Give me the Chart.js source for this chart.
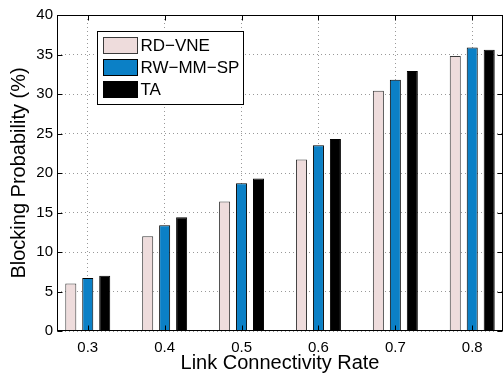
<!DOCTYPE html>
<html>
<head>
<meta charset="utf-8">
<script src="https://cdn.jsdelivr.net/npm/chart.js@4"></script>
<style>
  html, body { margin: 0; padding: 0; background: #fff; }
  #wrap { width: 504px; height: 373px; }
</style>
</head>
<body>
<div id="wrap"><canvas id="c" width="504" height="373"></canvas></div>
<script>
// ---- data ----
const xCategories = [0.3, 0.4, 0.5, 0.6, 0.7, 0.8];
const seriesNames = ['RD\u2212VNE', 'RW\u2212MM\u2212SP', 'TA'];
const rdVne  = [6.0, 12.0, 16.4, 21.7, 30.4, 34.8];
const rwMmSp = [6.7, 13.4, 18.7, 23.5, 31.8, 35.9];
const ta     = [7.0, 14.4, 19.3, 24.3, 32.9, 35.6];
const yTickValues = [0, 5, 10, 15, 20, 25, 30, 35, 40];
const xAxisTitle = 'Link Connectivity Rate';
const yAxisTitle = 'Blocking Probability (%)';

// ---- styles ----
const FONT = '"Liberation Sans", Arial, Helvetica, sans-serif';
const fills = ['#eedcdc', '#0b80c6', '#000000'];
const edges = ['#3a3a3a', '#000000', '#000000'];
const seriesValues = [rdVne, rwMmSp, ta];

const datasets = seriesNames.map((name, s) => ({
  label: name,
  data: xCategories.map((x, i) => ({ x: x, y: seriesValues[s][i] })),
  backgroundColor: fills[s],
  borderColor: edges[s],
  borderWidth: 1,
  borderSkipped: 'bottom',
  categoryPercentage: 0.662,
  barPercentage: 0.65
}));

const framePlugin = {
  id: 'frame',
  afterDatasetsDraw(chart) {
    const { ctx, chartArea: a, scales } = chart;
    const x = scales.x, y = scales.y;
    ctx.save();
    ctx.strokeStyle = '#000';
    ctx.lineWidth = 1;
    const L = Math.round(a.left) + 0.5, R = Math.round(a.right) - 0.5;
    const T = Math.round(a.top) + 0.5, B = Math.round(a.bottom) - 0.5;
    ctx.strokeRect(L, T, R - L, B - T);
    const tl = 5;
    ctx.beginPath();
    x.ticks.forEach(t => {
      const px = Math.round(x.getPixelForValue(t.value)) + 0.5;
      ctx.moveTo(px, B); ctx.lineTo(px, B - tl);
      ctx.moveTo(px, T); ctx.lineTo(px, T + tl);
    });
    y.ticks.forEach(t => {
      const py = Math.round(y.getPixelForValue(t.value)) + 0.5;
      ctx.moveTo(L, py); ctx.lineTo(L + tl, py);
      ctx.moveTo(R, py); ctx.lineTo(R - tl, py);
    });
    ctx.stroke();

    // legend box inside the axes
    const bx = Math.round(a.left + 40) + 0.5, by = Math.round(a.top + 16) + 0.5;
    const bw = 146, bh = 73;
    ctx.fillStyle = '#fff';
    ctx.fillRect(bx, by, bw, bh);
    ctx.strokeRect(bx, by, bw, bh);
    ctx.font = '17px ' + FONT;
    ctx.textBaseline = 'middle';
    ctx.textAlign = 'left';
    chart.data.datasets.forEach((ds, i) => {
      const sx = bx + 6, sy = by + 6 + i * 22;
      ctx.fillStyle = ds.backgroundColor;
      ctx.fillRect(sx, sy, 34, 16);
      ctx.strokeStyle = ds.borderColor;
      ctx.strokeRect(sx, sy, 34, 16);
      ctx.fillStyle = '#000';
      ctx.fillText(ds.label, sx + 37, sy + 9);
    });
    ctx.restore();
  }
};

new Chart(document.getElementById('c'), {
  type: 'bar',
  data: { datasets: datasets },
  options: {
    responsive: false,
    animation: false,
    devicePixelRatio: 1,
    layout: { padding: { left: 0, right: 1, top: 15, bottom: 0 } },
    plugins: { legend: { display: false }, tooltip: { enabled: false } },
    scales: {
      x: {
        type: 'linear',
        min: 0.26,
        max: 0.84,
        offset: false,
        afterBuildTicks: s => { s.ticks = xCategories.map(v => ({ value: v })); },
        afterFit: s => { s.height = 42; },
        ticks: {
          color: '#000',
          font: { family: FONT, size: 15 },
          padding: 8,
          maxRotation: 0,
          autoSkip: false,
          callback: v => Number(v).toFixed(1)
        },
        grid: { offset: false, color: '#999999', lineWidth: 1, drawTicks: false },
        border: { display: false, dash: [1, 3] },
        title: {
          display: true,
          text: xAxisTitle,
          color: '#000',
          font: { family: FONT, size: 20, lineHeight: 1 },
          padding: { top: 0, bottom: 0 }
        }
      },
      y: {
        type: 'linear',
        min: 0,
        max: 40,
        afterBuildTicks: s => { s.ticks = yTickValues.map(v => ({ value: v })); },
        afterFit: s => { s.width = 57; },
        ticks: {
          color: '#000',
          font: { family: FONT, size: 15 },
          padding: 4
        },
        grid: { color: '#999999', lineWidth: 1, drawTicks: false },
        border: { display: false, dash: [1, 3] },
        title: {
          display: true,
          text: yAxisTitle,
          color: '#000',
          font: { family: FONT, size: 20, lineHeight: 1 },
          padding: { top: 9, bottom: 0 }
        }
      }
    }
  },
  plugins: [framePlugin]
});
</script>
</body>
</html>
